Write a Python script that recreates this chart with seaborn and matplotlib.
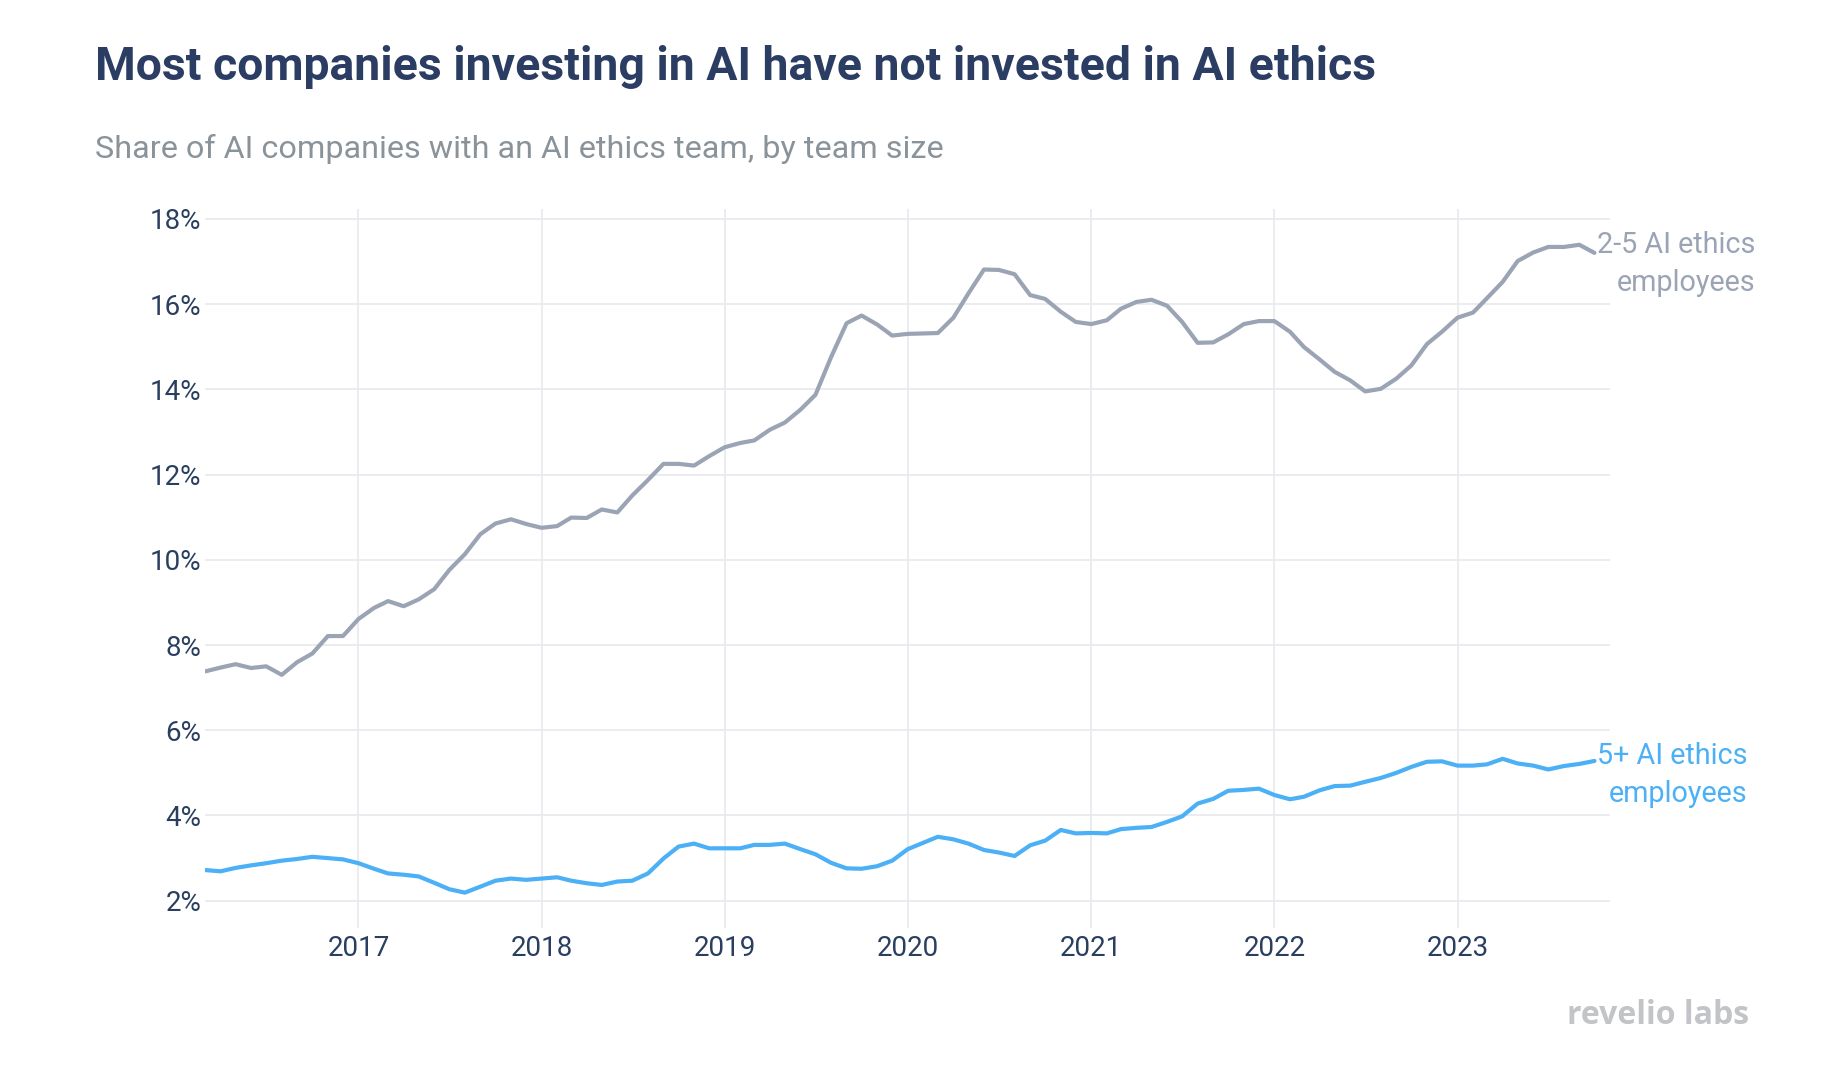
import matplotlib
matplotlib.use("Agg")
import matplotlib.pyplot as plt
import matplotlib.dates as mdates
import matplotlib.ticker as mticker
import numpy as np
import pandas as pd
import seaborn as sns

# ---- data (monthly, 2016-03 .. 2023-10) ----
months = pd.date_range("2016-03-01", "2023-10-01", freq="MS")

share_2_5 = [
    7.38, 7.47, 7.55, 7.46, 7.50, 7.30, 7.60, 7.80, 8.21, 8.21,
    8.61, 8.87, 9.03, 8.91, 9.07, 9.31, 9.76, 10.13, 10.60, 10.85,
    10.95, 10.84, 10.75, 10.79, 10.99, 10.98, 11.18, 11.11, 11.51, 11.87,
    12.25, 12.25, 12.21, 12.43, 12.64, 12.74, 12.80, 13.05, 13.22, 13.52,
    13.87, 14.75, 15.55, 15.73, 15.52, 15.26, 15.30, 15.31, 15.32, 15.68,
    16.25, 16.81, 16.80, 16.70, 16.21, 16.12, 15.82, 15.58, 15.53, 15.62,
    15.89, 16.05, 16.10, 15.96, 15.58, 15.09, 15.10, 15.29, 15.53, 15.60,
    15.60, 15.35, 14.99, 14.70, 14.41, 14.21, 13.95, 14.01, 14.25, 14.56,
    15.06, 15.35, 15.68, 15.80, 16.14, 16.52, 17.01, 17.21, 17.34, 17.34,
    17.39, 17.20,
]

share_5_plus = [
    2.72, 2.69, 2.77, 2.83, 2.88, 2.94, 2.98, 3.03, 3.00, 2.97,
    2.88, 2.75, 2.64, 2.61, 2.57, 2.42, 2.27, 2.19, 2.33, 2.47,
    2.52, 2.49, 2.52, 2.55, 2.47, 2.41, 2.37, 2.45, 2.47, 2.64,
    2.99, 3.27, 3.34, 3.23, 3.23, 3.23, 3.31, 3.31, 3.34, 3.21,
    3.09, 2.89, 2.76, 2.75, 2.81, 2.94, 3.21, 3.36, 3.50, 3.44,
    3.34, 3.19, 3.13, 3.05, 3.30, 3.41, 3.66, 3.58, 3.59, 3.58,
    3.68, 3.71, 3.73, 3.85, 3.98, 4.28, 4.39, 4.58, 4.60, 4.63,
    4.48, 4.38, 4.44, 4.59, 4.69, 4.70, 4.79, 4.88, 5.00, 5.14,
    5.26, 5.27, 5.17, 5.17, 5.20, 5.33, 5.22, 5.17, 5.08, 5.16,
    5.21, 5.28,
]

series_names = ["2-5 AI ethics\nemployees", "5+ AI ethics\nemployees"]
y_ticks = [2, 4, 6, 8, 10, 12, 14, 16, 18]
x_years = [2017, 2018, 2019, 2020, 2021, 2022, 2023]

title = "Most companies investing in AI have not invested in AI ethics"
subtitle = "Share of AI companies with an AI ethics team, by team size"
brand = "revelio labs"

df = pd.DataFrame({
    "month": list(months) * 2,
    "share": share_2_5 + share_5_plus,
    "series": [series_names[0]] * len(months) + [series_names[1]] * len(months),
})

# ---- style ----
sns.set_theme(style="white")
plt.rcParams["font.family"] = ["Roboto", "DejaVu Sans"]

GRAY = "#9ba4b4"
BLUE = "#4bb0f5"
NAVY = "#2b3d63"
TICK = "#2a3f5f"
GRID = "#e9eaef"

W, H = 1838, 1068
fig = plt.figure(figsize=(W / 100, H / 100), dpi=100)
ax = fig.add_axes([205 / W, 1 - 928 / H, (1610 - 205) / W, (928 - 209) / H])

sns.lineplot(data=df, x="month", y="share", hue="series",
             palette={series_names[0]: GRAY, series_names[1]: BLUE},
             linewidth=3.0, ax=ax, legend=False)

ax.set_xlim(pd.Timestamp("2016-03-01"), pd.Timestamp("2023-11-01"))
ax.set_ylim(1.36, 18.23)
ax.set_yticks(y_ticks)
ax.yaxis.set_major_formatter(mticker.FuncFormatter(lambda v, p: f"{v:.0f}%"))
ax.set_xticks([pd.Timestamp(f"{y}-01-01") for y in x_years])
ax.xaxis.set_major_formatter(mdates.DateFormatter("%Y"))

ax.grid(True, color=GRID, linewidth=1.3)
ax.set_axisbelow(True)
for s in ax.spines.values():
    s.set_visible(False)
ax.tick_params(axis="both", length=0, labelsize=20, labelcolor=TICK)
ax.tick_params(axis="y", pad=2.5)
ax.tick_params(axis="x", pad=5)
ax.set_xlabel("")
ax.set_ylabel("")

# end-of-line labels
ax.annotate(series_names[0], xy=(months[-1], share_2_5[-1]), xytext=(1.5, -8),
            textcoords="offset points", ha="left", va="center",
            multialignment="right", fontsize=20.7, color=GRAY, linespacing=1.45,
            annotation_clip=False)
ax.annotate(series_names[1], xy=(months[-1], share_5_plus[-1]), xytext=(1.5, -10),
            textcoords="offset points", ha="left", va="center",
            multialignment="right", fontsize=20.7, color=BLUE, linespacing=1.45,
            annotation_clip=False)

# titles
fig.text(95 / W, 1 - 80 / H, title, fontsize=33.4, fontweight="bold",
         color=NAVY, ha="left", va="baseline")
fig.text(95 / W, 1 - 158 / H, subtitle, fontsize=23.3, color="#8a9399",
         ha="left", va="baseline")

# brand
fig.text(1749 / W, 1 - 1024 / H, brand, fontsize=23, fontweight="bold",
         color="#c3c4c8", ha="right", va="baseline",
         family=["Open Sans", "DejaVu Sans"])

fig.savefig("out.png", dpi=100, facecolor="white")
